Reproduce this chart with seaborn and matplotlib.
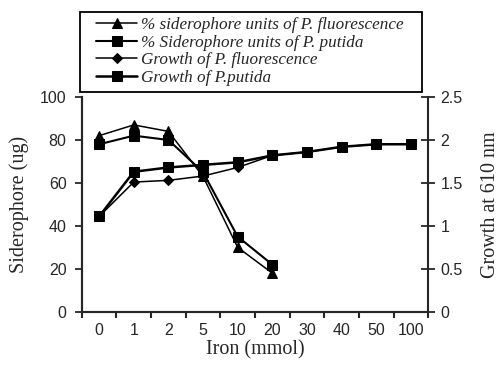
import numpy as np
import pandas as pd
import seaborn as sns
import matplotlib.pyplot as plt

# iron concentrations (categorical x axis)
iron = ['0', '1', '2', '5', '10', '20', '30', '40', '50', '100']

# siderophore (ug), left axis, measured only up to 20 mmol
sid_fluor = [82, 87, 84, 63, 30, 18]
sid_putida = [78, 82, 80, 65, 35, 22]

# growth at 610 nm, right axis
growth_fluor = [1.11, 1.51, 1.53, 1.58, 1.68, 1.82, 1.86, 1.92, 1.95, 1.95]
growth_putida = [1.11, 1.63, 1.68, 1.71, 1.74, 1.82, 1.86, 1.92, 1.95, 1.95]

left_ticks = [0, 20, 40, 60, 80, 100]
right_ticks = [0, 0.5, 1, 1.5, 2, 2.5]
right_tick_labels = ['0', '0.5', '1', '1.5', '2', '2.5']


def main():
    sns.set_style('ticks')
    plt.rcParams['font.family'] = ['Liberation Sans', 'DejaVu Sans']
    plt.rcParams['axes.linewidth'] = 1.5

    pos = np.arange(len(iron))
    sid = pd.DataFrame({
        'pos': pos[:len(sid_fluor)],
        'fluor': sid_fluor,
        'putida': sid_putida,
    })
    growth = pd.DataFrame({
        'pos': pos,
        'fluor': growth_fluor,
        'putida': growth_putida,
    })

    fig = plt.figure(figsize=(4.99, 3.66), dpi=100)
    ax = fig.add_axes([0.164, 0.148, 0.694, 0.587])
    ax2 = ax.twinx()

    sns.lineplot(data=sid, x='pos', y='fluor', ax=ax, color='black',
                 marker='^', markersize=7, linewidth=1.1, markeredgecolor='black',
                 label='% siderophore units of P. fluorescence', legend=False)
    sns.lineplot(data=sid, x='pos', y='putida', ax=ax, color='black',
                 marker='s', markersize=7, linewidth=1.5, markeredgecolor='black',
                 label='% Siderophore units of P. putida', legend=False)
    sns.lineplot(data=growth, x='pos', y='fluor', ax=ax2, color='black',
                 marker='D', markersize=5, linewidth=1.1, markeredgecolor='black',
                 label='Growth of P. fluorescence', legend=False)
    sns.lineplot(data=growth, x='pos', y='putida', ax=ax2, color='black',
                 marker='s', markersize=7, linewidth=1.8, markeredgecolor='black',
                 label='Growth of P.putida', legend=False)

    ax.set_xlim(-0.5, len(iron) - 0.5)
    ax.set_ylim(0, 100)
    ax2.set_ylim(0, 2.5)

    ax.set_xticks(pos)
    ax.set_xticklabels(iron, fontsize=11.5)
    ax.set_xticks(np.arange(-0.5, len(iron)), minor=True)
    ax.tick_params(axis='x', which='major', length=0, pad=8)
    ax.tick_params(axis='x', which='minor', length=4, width=1.5,
                   direction='out')

    ax.set_yticks(left_ticks)
    ax.set_yticklabels([str(t) for t in left_ticks], fontsize=11.5)
    ax.tick_params(axis='y', length=5, width=1.3, direction='out', pad=6)

    ax2.set_yticks(right_ticks)
    ax2.set_yticklabels(right_tick_labels, fontsize=11.5)
    ax2.tick_params(axis='y', length=10, width=1.3, direction='inout', pad=4)

    for a in (ax, ax2):
        a.spines['top'].set_visible(False)
        a.spines['left'].set_linewidth(1.5)
        a.spines['right'].set_linewidth(1.5)
        a.spines['bottom'].set_linewidth(1.5)
    ax.spines['right'].set_visible(False)

    ax.set_xlabel('Iron (mmol)', fontsize=14.5, family='Liberation Serif',
                  labelpad=2)
    ax.set_ylabel('Siderophore (ug)', fontsize=14.5, family='Liberation Serif',
                  labelpad=8)
    ax2.set_ylabel('Growth at 610 nm', fontsize=14.5, family='Liberation Serif',
                   labelpad=13)

    handles = ax.get_lines() + ax2.get_lines()
    labels = [h.get_label() for h in handles]
    fig.legend(handles, labels, loc='upper left',
               bbox_to_anchor=(96 / 499, 1 - 17 / 366),
               frameon=False,
               prop={'family': 'Liberation Serif', 'style': 'italic',
                     'size': 12.3},
               handlelength=2.4, handletextpad=0.25, labelspacing=0.1,
               borderpad=0, borderaxespad=0)
    # legend box drawn separately so it spans the plot width
    fig.add_artist(plt.Rectangle((80 / 499, 1 - 92 / 366), 342 / 499,
                                 80 / 366, transform=fig.transFigure,
                                 fill=False, edgecolor='black', lw=1.3))

    fig.savefig('out.png', dpi=100)


if __name__ == '__main__':
    main()
